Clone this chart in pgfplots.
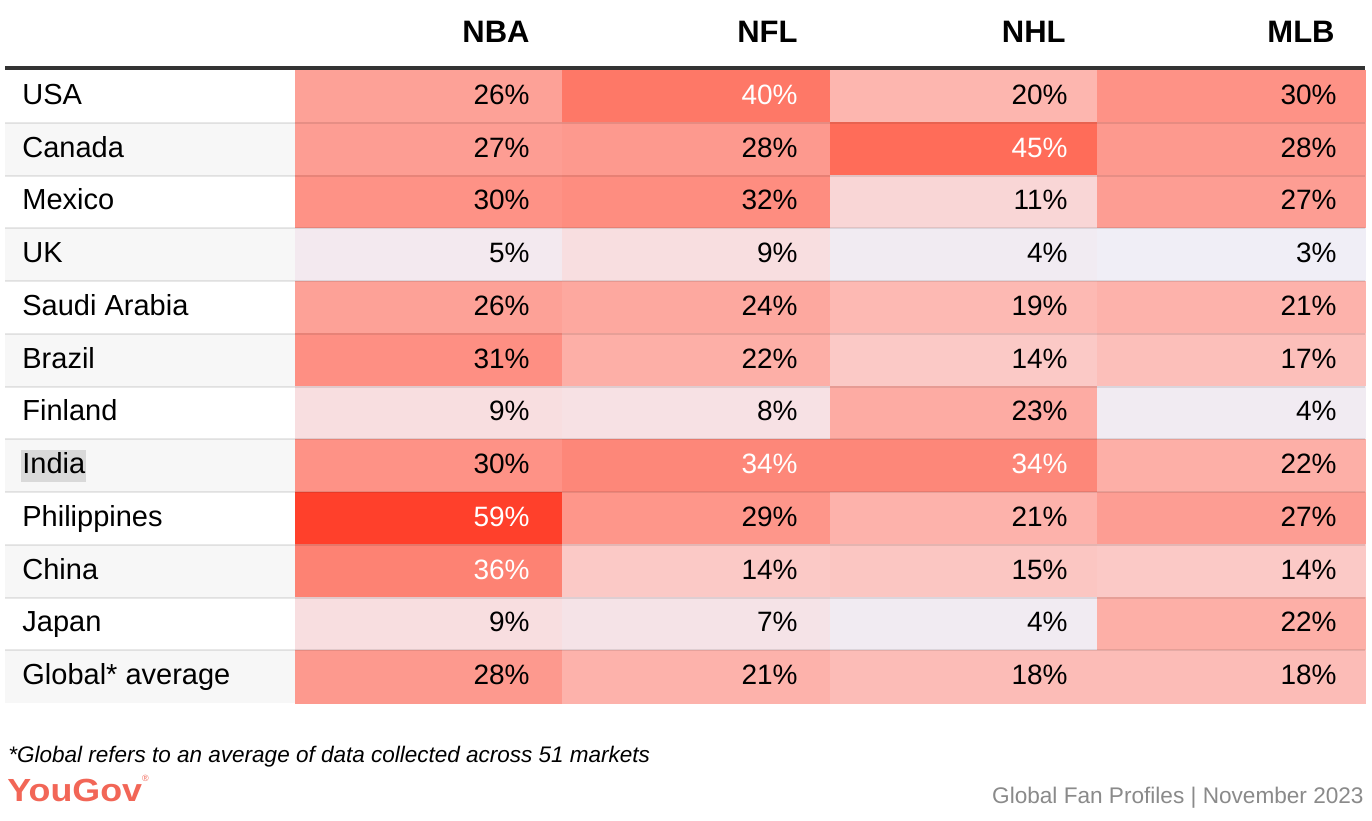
\documentclass[border=0pt]{standalone}
\usepackage{fontspec}
\setmainfont{Liberation Sans}
\newfontfamily\logofont[FakeStretch=1.12]{Liberation Sans Bold}
\usepackage{pgfplots}
\pgfplotsset{compat=1.18}
\usepackage{pgfplotstable}

\definecolor{hdrline}{HTML}{333333}
\definecolor{rowgray}{HTML}{F7F7F7}
\definecolor{srcgray}{HTML}{8A8A8A}
\definecolor{logored}{HTML}{F26657}
\definecolor{selgray}{HTML}{D9D9D9}

% x = cell centre, tx = right edge of the value text, y = row centre, v = percent
\pgfplotstableread{
x y tx v
428.75 96.375 530 26
696.25 96.375 798 40
963.75 96.375 1068 20
1231.25 96.375 1337 30
428.75 149.125 530 27
696.25 149.125 798 28
963.75 149.125 1068 45
1231.25 149.125 1337 28
428.75 201.875 530 30
696.25 201.875 798 32
963.75 201.875 1068 11
1231.25 201.875 1337 27
428.75 254.625 530 5
696.25 254.625 798 9
963.75 254.625 1068 4
1231.25 254.625 1337 3
428.75 307.375 530 26
696.25 307.375 798 24
963.75 307.375 1068 19
1231.25 307.375 1337 21
428.75 360.125 530 31
696.25 360.125 798 22
963.75 360.125 1068 14
1231.25 360.125 1337 17
428.75 412.875 530 9
696.25 412.875 798 8
963.75 412.875 1068 23
1231.25 412.875 1337 4
428.75 465.625 530 30
696.25 465.625 798 34
963.75 465.625 1068 34
1231.25 465.625 1337 22
428.75 518.375 530 59
696.25 518.375 798 29
963.75 518.375 1068 21
1231.25 518.375 1337 27
428.75 571.125 530 36
696.25 571.125 798 14
963.75 571.125 1068 15
1231.25 571.125 1337 14
428.75 623.875 530 9
696.25 623.875 798 7
963.75 623.875 1068 4
1231.25 623.875 1337 22
428.75 676.625 530 28
696.25 676.625 798 21
963.75 676.625 1068 18
1231.25 676.625 1337 18
}\cells

\begin{document}
\begin{tikzpicture}
\begin{axis}[
  width=686pt, height=410pt, scale only axis,
  xmin=0, xmax=1372, ymin=0, ymax=820, y dir=reverse,
  hide axis, clip=false,
  /pgf/number format/assume math mode=true,
  colormap={heat}{
    rgb255(3)=(240,238,246)
    rgb255(9)=(248,222,224)
    rgb255(14)=(251,201,198)
    rgb255(20)=(253,182,175)
    rgb255(26)=(253,161,151)
    rgb255(30)=(254,146,134)
    rgb255(36)=(253,130,115)
    rgb255(45)=(255,108,89)
    rgb255(59)=(255,64,43)},
  point meta min=3, point meta max=59,
  valstyle/.style={only marks, mark=none, point meta=explicit,
    nodes near coords={\pgfmathprintnumber[fixed,precision=0,assume math mode=true]{\pgfplotspointmeta}\%},
    nodes near coords style={anchor=base east, yshift=-4pt, inner sep=0pt,
      font=\fontsize{14}{16}\selectfont}},
]
% page background
\fill[white] (axis cs:0,0) rectangle (axis cs:1372,820);
% alternating row shading in the label column
\fill[rowgray] (axis cs:5,122.75) rectangle (axis cs:295,175.5);
\fill[rowgray] (axis cs:5,228.25) rectangle (axis cs:295,281);
\fill[rowgray] (axis cs:5,333.75) rectangle (axis cs:295,386.5);
\fill[rowgray] (axis cs:5,439.25) rectangle (axis cs:295,492);
\fill[rowgray] (axis cs:5,544.75) rectangle (axis cs:295,597.5);
\fill[rowgray] (axis cs:5,650.25) rectangle (axis cs:295,703);

% heat-map cells
\addplot[matrix plot*, mesh/cols=4, mesh/rows=12, point meta=explicit]
  table[x=x, y=y, meta=v] {\cells};

% row separators
\foreach \yy in {122.75,175.5,228.25,281,333.75,386.5,439.25,492,544.75,597.5,650.25}{
  \edef\tmp{\noexpand\draw[black, opacity=0.09, line width=1pt] (axis cs:5,\yy) -- (axis cs:1365,\yy);}
  \tmp
}
% header rule
\draw[hdrline, line width=2pt] (axis cs:5,68) -- (axis cs:1365,68);

% values
\addplot[valstyle, restrict expr to domain={\thisrow{v}}{0:33.5},
  nodes near coords style={text=black}]
  table[x=tx, y=y, meta=v] {\cells};
\addplot[valstyle, restrict expr to domain={\thisrow{v}}{33.5:100},
  nodes near coords style={text=white}]
  table[x=tx, y=y, meta=v] {\cells};

% column headers
\begin{scope}[every node/.style={anchor=base east, inner sep=0pt, font=\fontsize{15.5}{18}\selectfont\bfseries}]
\node at (axis cs:530,42.5) {NBA};
\node at (axis cs:798,42.5) {NFL};
\node at (axis cs:1066,42.5) {NHL};
\node at (axis cs:1335,42.5) {MLB};
\end{scope}

% row labels
\fill[selgray] (axis cs:21,450) rectangle (axis cs:86,482);
\begin{scope}[every node/.style={anchor=base west, inner sep=0pt, font=\fontsize{14.5}{17}\selectfont}]
\node at (axis cs:22,104.4) {USA};
\node at (axis cs:22,157.1) {Canada};
\node at (axis cs:22,209.9) {Mexico};
\node at (axis cs:22,262.6) {UK};
\node at (axis cs:22,315.4) {Saudi Arabia};
\node at (axis cs:22,368.1) {Brazil};
\node at (axis cs:22,420.9) {Finland};
\node at (axis cs:22,473.6) {India};
\node at (axis cs:22,526.4) {Philippines};
\node at (axis cs:22,579.1) {China};
\node at (axis cs:22,631.9) {Japan};
\node at (axis cs:22,684.6) {Global* average};
\end{scope}

% footnote and footer
\node[anchor=base west, inner sep=0pt, font=\fontsize{11.25}{13}\selectfont\itshape]
  at (axis cs:8,762) {*Global refers to an average of data collected across 51 markets};
\node[anchor=base west, inner sep=0pt, text=logored, font=\fontsize{16}{18}\selectfont\logofont]
  at (axis cs:7,801) {YouGov\raisebox{1.15ex}{\fontsize{4.5}{5}\selectfont\normalfont ®}};
\node[anchor=base east, inner sep=0pt, text=srcgray, font=\fontsize{11.3}{13}\selectfont]
  at (axis cs:1364,803) {Global Fan Profiles | November 2023};
\end{axis}
\end{tikzpicture}
\end{document}
